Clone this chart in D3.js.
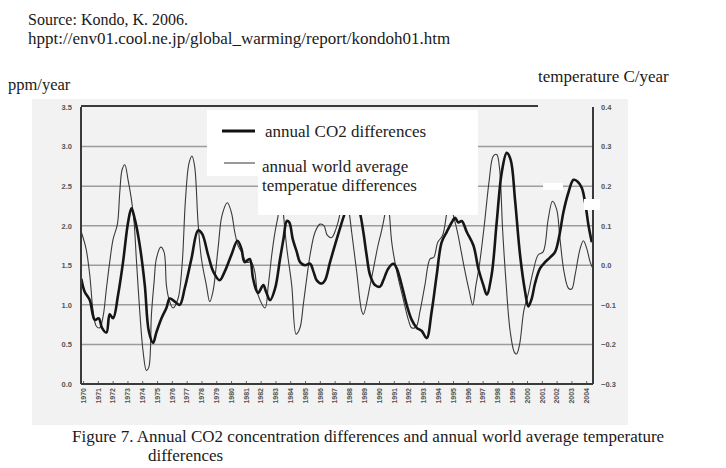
<!DOCTYPE html>
<html>
<head>
<meta charset="utf-8">
<script src="https://cdn.jsdelivr.net/npm/d3@7"></script>
<style>
  body { margin: 0; background: #fff; }
  svg { display: block; }
</style>
</head>
<body>
<div id="chart"></div>
<script>
// annual CO2 differences (ppm/year)
const co2Years = [1969.88, 1970.1, 1970.45, 1970.79, 1971.06, 1971.28, 1971.58, 1971.8, 1972.03, 1972.37,
  1972.7, 1973.04, 1973.27, 1973.5, 1973.8, 1974.17, 1974.44, 1974.73, 1974.95, 1975.3,
  1975.63, 1975.86, 1976.2, 1976.53, 1976.87, 1977.32, 1977.77, 1978.04, 1978.45, 1978.8,
  1979.23, 1979.57, 1980.02, 1980.43, 1980.7, 1980.92, 1981.26, 1981.49, 1981.82, 1982.18,
  1982.36, 1982.64, 1982.98, 1983.31, 1983.54, 1983.77, 1983.94, 1984.17, 1984.44, 1984.66,
  1985.0, 1985.34, 1985.57, 1985.79, 1986.13, 1986.35, 1986.69, 1987.14, 1987.48, 1987.7,
  1988.1, 1988.7, 1988.94, 1989.16, 1989.39, 1989.73, 1990.07, 1990.29, 1990.63, 1990.97,
  1991.2, 1991.53, 1991.87, 1992.21, 1992.55, 1992.89, 1993.22, 1993.56, 1993.9, 1994.23,
  1994.57, 1994.91, 1995.14, 1995.36, 1995.59, 1995.93, 1996.38, 1996.71, 1997.05, 1997.28,
  1997.61, 1997.95, 1998.29, 1998.63, 1998.9, 1999.19, 1999.53, 1999.87, 2000.09, 2000.32,
  2000.54, 2000.88, 2001.22, 2001.56, 2001.9, 2002.19, 2002.46, 2002.8, 2003.14, 2003.41,
  2003.7, 2003.93, 2004.16, 2004.38];
const co2Values = [1.33, 1.17, 1.06, 0.81, 0.83, 0.71, 0.65, 0.88, 0.83, 1.13,
  1.54, 2.04, 2.22, 2.08, 1.79, 1.25, 0.67, 0.52, 0.65, 0.83,
  0.96, 1.08, 1.04, 1.0, 1.21, 1.58, 1.94, 1.9, 1.63, 1.42,
  1.31, 1.42, 1.63, 1.81, 1.71, 1.54, 1.58, 1.33, 1.15, 1.25,
  1.17, 1.06, 1.21, 1.58, 1.83, 2.06, 2.04, 1.83, 1.67, 1.54,
  1.5, 1.52, 1.42, 1.31, 1.27, 1.31, 1.54, 1.83, 2.04, 2.17,
  2.5, 2.17, 1.92, 1.63, 1.38, 1.25, 1.23, 1.31, 1.46, 1.52,
  1.46, 1.25, 1.0, 0.81, 0.71, 0.67, 0.58, 0.92, 1.38, 1.79,
  1.92, 2.04, 2.1, 2.04, 2.06, 1.92, 1.75, 1.46, 1.25, 1.13,
  1.38, 2.04, 2.67, 2.92, 2.83, 2.33, 1.63, 1.17, 0.98, 1.08,
  1.27, 1.46, 1.54, 1.6, 1.67, 1.88, 2.17, 2.42, 2.58, 2.56,
  2.48, 2.29, 2.0, 1.79];

// annual world average temperature differences (C/year), right axis
const tempYears = [1969.88, 1970.2, 1970.45, 1970.68, 1970.9, 1971.13, 1971.35, 1971.58, 1971.8, 1972.03,
  1972.32, 1972.48, 1972.64, 1972.82, 1973.04, 1973.27, 1973.45, 1973.6, 1973.83, 1974.05,
  1974.28, 1974.44, 1974.62, 1974.8, 1974.95, 1975.25, 1975.47, 1975.63, 1975.79, 1976.08,
  1976.42, 1976.69, 1976.92, 1977.16, 1977.36, 1977.54, 1977.77, 1978.0, 1978.33, 1978.56,
  1978.78, 1979.12, 1979.39, 1979.75, 1980.02, 1980.25, 1980.47, 1980.7, 1981.04, 1981.37,
  1981.6, 1981.82, 1982.3, 1982.52, 1982.75, 1982.97, 1983.2, 1983.37, 1983.54, 1983.77,
  1984.1, 1984.4, 1984.66, 1984.88, 1985.11, 1985.34, 1985.68, 1986.01, 1986.28, 1986.5,
  1986.8, 1987.09, 1987.36, 1987.65, 1988.0, 1988.15, 1988.49, 1988.83, 1988.94, 1989.4,
  1989.93, 1990.15, 1990.4, 1990.55, 1990.7, 1990.86, 1991.2, 1991.6, 1992.0, 1992.2,
  1992.5, 1992.77, 1993.1, 1993.45, 1993.7, 1993.97, 1994.3, 1994.57, 1994.8, 1995.0,
  1995.3, 1995.77, 1996.1, 1996.33, 1996.55, 1996.78, 1997.11, 1997.45, 1997.72, 1997.95,
  1998.13, 1998.36, 1998.58, 1998.86, 1999.15, 1999.3, 1999.5, 1999.78, 2000.07, 2000.41,
  2000.75, 2001.09, 2001.43, 2001.72, 2002.0, 2002.23, 2002.5, 2002.8, 2003.02, 2003.25,
  2003.59, 2003.81, 2004.04, 2004.27, 2004.45];
const tempValues = [0.084, 0.042, -0.024, -0.116, -0.154, -0.158, -0.13, -0.058, 0.008, 0.066,
  0.104, 0.184, 0.242, 0.254, 0.216, 0.166, 0.108, 0.016, -0.116, -0.216,
  -0.266, -0.258, -0.124, -0.042, 0.016, 0.046, 0.034, -0.05, -0.084, -0.108,
  -0.084, 0.0, 0.166, 0.258, 0.276, 0.25, 0.108, 0.016, -0.05, -0.092,
  -0.066, 0.042, 0.126, 0.158, 0.134, 0.084, 0.05, 0.034, 0.008, 0.008,
  -0.016, -0.074, -0.108, -0.05, 0.026, 0.084, 0.13, 0.2, 0.13, 0.042,
  -0.05, -0.174, -0.158, -0.1, -0.034, 0.026, 0.084, 0.104, 0.1, 0.076,
  0.07, 0.092, 0.13, 0.22, 0.13, 0.084, -0.016, -0.116, -0.124, -0.05,
  0.05, 0.084, 0.13, 0.17, 0.13, 0.058, -0.016, -0.08, -0.14, -0.158,
  -0.156, -0.116, -0.05, 0.016, 0.02, 0.058, 0.076, 0.13, 0.17, 0.13,
  0.084, -0.008, -0.066, -0.1, -0.05, 0.0, 0.1, 0.216, 0.276, 0.28,
  0.25, 0.084, -0.042, -0.166, -0.22, -0.224, -0.2, -0.116, -0.074, -0.016,
  0.026, 0.034, 0.116, 0.162, 0.142, 0.066, -0.016, -0.058, -0.06, -0.024,
  0.042, 0.062, 0.042, 0.008, -0.008];

const yearTicks = d3.range(1970, 2005);
const ppmTicks = [0, 0.5, 1.0, 1.5, 2.0, 2.5, 3.0, 3.5];
const tempTicks = [-0.3, -0.2, -0.1, 0.0, 0.1, 0.2, 0.3, 0.4];

const width = 726;
const height = 468;
const plot = { left: 81, right: 593, top: 107, bottom: 384 };
const serif = '"Liberation Serif", "Times New Roman", serif';
const sans = '"Liberation Sans", Arial, sans-serif';

const svg = d3.select('#chart')
  .append('svg')
  .attr('width', width)
  .attr('height', height);

// greyish scanned paper behind the figure
svg.append('rect')
  .attr('x', 32).attr('y', 99)
  .attr('width', 596).attr('height', 326)
  .attr('fill', '#f2f2f2');

const x = d3.scaleLinear().domain([1969.86, 2004.46]).range([plot.left, plot.right]);
const y = d3.scaleLinear().domain([0, 3.5]).range([plot.bottom, plot.top]);
const yT = d3.scaleLinear().domain([-0.3, 0.4]).range([plot.bottom, plot.top]);

// horizontal gridlines
svg.append('g')
  .selectAll('line')
  .data(ppmTicks.filter(d => d > 0 && d < 3.5))
  .join('line')
  .attr('x1', plot.left).attr('x2', plot.right)
  .attr('y1', d => y(d)).attr('y2', d => y(d))
  .attr('stroke', '#9c9c9c')
  .attr('stroke-width', 1.5);

function leftAxis(g) {
  g.attr('transform', `translate(${plot.left},0)`)
    .call(d3.axisLeft(y).tickValues(ppmTicks).tickFormat(d3.format('.1f')).tickSize(0).tickPadding(9))
    .attr('font-family', sans).attr('font-size', 7.5).attr('font-weight', 'bold')
    .call(g => g.select('.domain').remove())
    .call(g => g.selectAll('text').attr('fill', '#555'));
}

function rightAxis(g) {
  g.attr('transform', `translate(${plot.right},0)`)
    .call(d3.axisRight(yT).tickValues(tempTicks).tickFormat(d3.format('.1f')).tickSize(0).tickPadding(8))
    .attr('font-family', sans).attr('font-size', 7.5).attr('font-weight', 'bold')
    .call(g => g.select('.domain').remove())
    .call(g => g.selectAll('text').attr('fill', '#555'));
}

function bottomAxis(g) {
  g.attr('transform', `translate(0,${plot.bottom})`)
    .call(d3.axisBottom(x).tickValues(yearTicks).tickFormat(d3.format('d')).tickSize(-3))
    .attr('font-family', sans).attr('font-size', 7).attr('font-weight', 'bold')
    .call(g => g.select('.domain').remove())
    .call(g => g.selectAll('line').attr('stroke', '#666'))
    .call(g => g.selectAll('text')
      .attr('fill', '#555')
      .attr('transform', 'rotate(-90)')
      .attr('text-anchor', 'end')
      .attr('x', -4).attr('y', 0).attr('dy', '0.32em'));
}

svg.append('g').call(leftAxis);
svg.append('g').call(rightAxis);
svg.append('g').call(bottomAxis);

const tempLine = d3.line()
  .x((d, i) => x(tempYears[i]))
  .y(d => yT(d))
  .curve(d3.curveCatmullRom.alpha(0.5));

const co2Line = d3.line()
  .x((d, i) => x(co2Years[i]))
  .y(d => y(d))
  .curve(d3.curveCatmullRom.alpha(0.5));

svg.append('path')
  .datum(tempValues)
  .attr('d', tempLine)
  .attr('fill', 'none')
  .attr('stroke', '#3a3a3a')
  .attr('stroke-width', 1.1);

svg.append('path')
  .datum(co2Values)
  .attr('d', co2Line)
  .attr('fill', 'none')
  .attr('stroke', '#161616')
  .attr('stroke-width', 2.6);

// plot frame (top edge missing at the right end in the scan)
const frame = svg.append('g').attr('stroke', '#3a3a3a').attr('stroke-width', 2);
frame.append('line').attr('x1', plot.left).attr('x2', plot.left).attr('y1', plot.top).attr('y2', plot.bottom);
frame.append('line').attr('x1', plot.left).attr('x2', plot.right).attr('y1', plot.bottom).attr('y2', plot.bottom);
frame.append('line').attr('x1', plot.right).attr('x2', plot.right).attr('y1', plot.top).attr('y2', plot.bottom);
frame.append('line').attr('x1', plot.left).attr('x2', 538).attr('y1', plot.top - 1).attr('y2', plot.top - 1);

// white paste-over for the legend
svg.append('path')
  .attr('d', 'M207,110 H478 V215 H258 V176 H207 Z')
  .attr('fill', '#fff');
// small white scan blemishes
svg.append('rect').attr('x', 584).attr('y', 199).attr('width', 16).attr('height', 11).attr('fill', '#fff');
svg.append('rect').attr('x', 543).attr('y', 183).attr('width', 20).attr('height', 7).attr('fill', '#fff');

// legend
svg.append('line').attr('x1', 222).attr('x2', 255).attr('y1', 131).attr('y2', 131)
  .attr('stroke', '#111').attr('stroke-width', 3);
svg.append('line').attr('x1', 224).attr('x2', 255).attr('y1', 163).attr('y2', 163)
  .attr('stroke', '#555').attr('stroke-width', 1.2);

const legendText = [
  { t: 'annual CO2 differences', x: 265, y: 137 },
  { t: 'annual world average', x: 262, y: 172 },
  { t: 'temperatue differences', x: 262, y: 191 }
];
svg.append('g')
  .selectAll('text')
  .data(legendText)
  .join('text')
  .attr('x', d => d.x).attr('y', d => d.y)
  .attr('font-family', serif).attr('font-size', 17).attr('fill', '#222')
  .text(d => d.t);

// header, axis titles and caption
const labels = [
  { t: 'Source: Kondo, K. 2006.', x: 28, y: 25, s: 16 },
  { t: 'hppt://env01.cool.ne.jp/global_warming/report/kondoh01.htm', x: 28, y: 44, s: 17 },
  { t: 'ppm/year', x: 8, y: 90, s: 16.5 },
  { t: 'temperature C/year', x: 538, y: 82, s: 17 },
  { t: 'Figure 7. Annual CO2 concentration differences and annual world average temperature', x: 72, y: 442, s: 17 },
  { t: 'differences', x: 148, y: 461, s: 17 }
];
svg.append('g')
  .selectAll('text')
  .data(labels)
  .join('text')
  .attr('x', d => d.x).attr('y', d => d.y)
  .attr('font-family', serif).attr('font-size', d => d.s).attr('fill', '#1a1a1a')
  .text(d => d.t);
</script>
</body>
</html>
